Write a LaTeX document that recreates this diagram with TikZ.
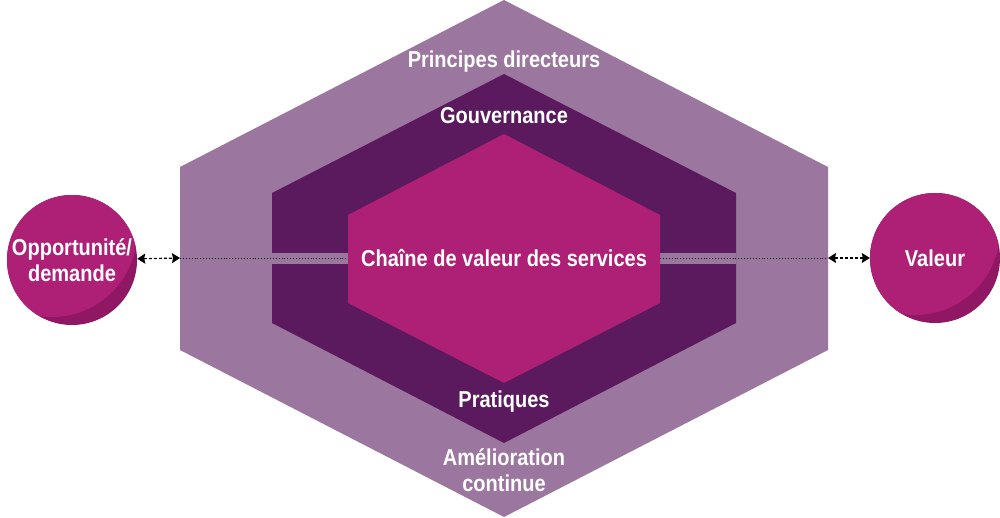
\documentclass[tikz,border=0pt]{standalone}
\usepackage{fontspec}
\setmainfont{Liberation Sans}[FakeStretch=0.87]
\usepackage{tikz}
\usetikzlibrary{positioning}
\usetikzlibrary{arrows.meta}

\definecolor{lilac}{HTML}{9B769E}
\definecolor{plum}{HTML}{5C1A5E}
\definecolor{magenta}{HTML}{AE2076}
\definecolor{magdark}{HTML}{8F1764}

\begin{document}
\begin{tikzpicture}[x=1pt,y=-1pt]

\tikzset{label text/.style={
		text=white,
		font=\fontsize{23}{26}\selectfont\bfseries,
		align=center,
		inner sep=0pt
	},
	bubble/.style={
		circle,
		fill=magdark,
		minimum size=130pt,
		inner sep=0pt,
		label text,
		path picture={
			\fill[magenta] ([shift={(-20pt,28pt)}]path picture bounding box.center) circle (85pt);
		}
	},
	link/.style={
		{Stealth[length=8pt,width=10pt,inset=1pt]}-{Stealth[length=8pt,width=10pt,inset=1pt]},
		dash pattern=on 3pt off 2pt,
		line width=1.2pt
	},
	trail/.style={dotted, line width=0.9pt}
}
\useasboundingbox (0,0) rectangle (1000,518);

% hexagons
\fill[lilac] (504,0) -- (828,167) -- (828,350) -- (504,517) -- (180,350) -- (180,167) -- cycle;
\fill[plum] (504,74) -- (736,193) -- (736,323) -- (504,443) -- (272,323) -- (272,193) -- cycle;
\fill[lilac] (272,253) rectangle (736,264);
\fill[magenta] (504,134) -- (660,215) -- (660,303) -- (504,383) -- (348,303) -- (348,215) -- cycle;

\coordinate (outW) at (180,258);
\coordinate (outE) at (828,258);
\coordinate (inW) at (348,258);
\coordinate (inE) at (660,258);

\node[label text] (principes) at (504,62) {Principes directeurs};
\node[label text] (gouvernance) at (504,116) {Gouvernance};
\node[label text] (chaine) at (504,258) {Chaîne de valeur des services};
\node[label text] (pratiques) at (504,402) {Pratiques};
\node[label text] (amelioration) at (504,470) {Amélioration\\continue};

\node[bubble] (demande) at (72,260) {Opportunité/\\demande};
\node[bubble] (valeur) at (935,258) {Valeur};

\draw[trail] (outW) -- (inW);
\draw[trail] (inE) -- (outE);
\draw[link] (demande) -- (outW);
\draw[link] (outE) -- (valeur);
\end{tikzpicture}
\end{document}
